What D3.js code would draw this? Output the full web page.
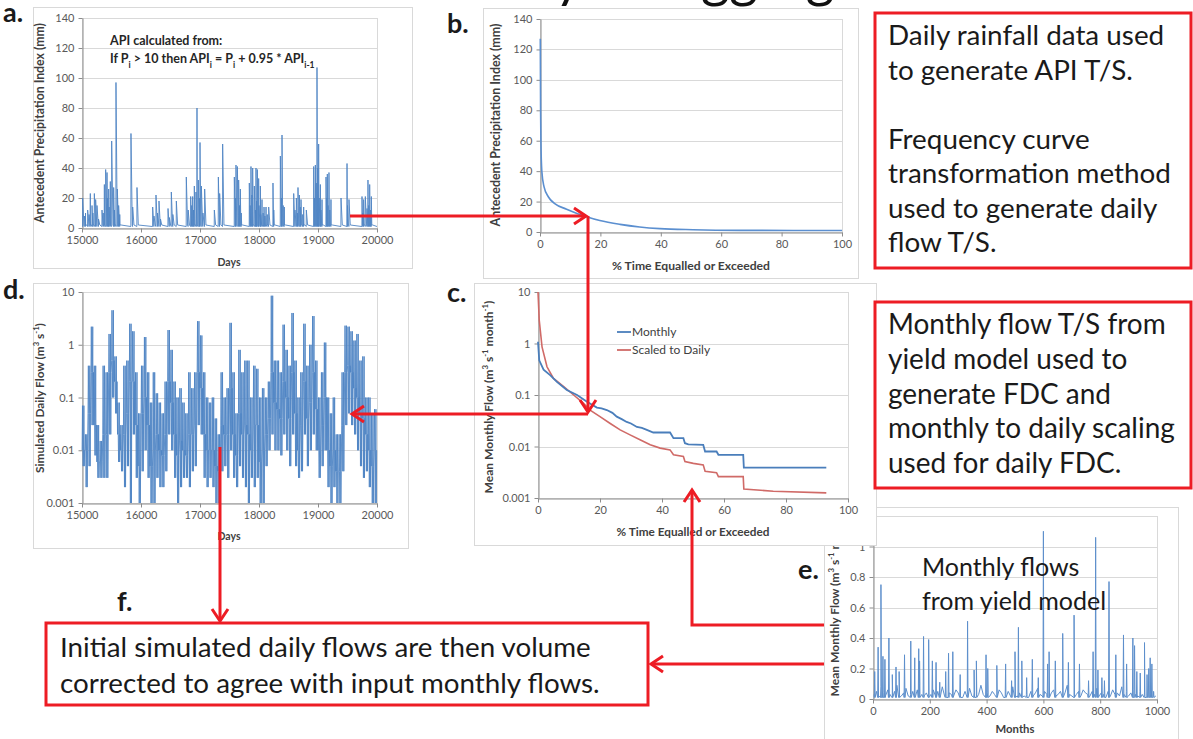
<!DOCTYPE html>
<html><head><meta charset="utf-8">
<script src="https://cdn.jsdelivr.net/npm/d3@7"></script>
<style>
html,body{margin:0;padding:0;background:#fff;overflow:hidden}
svg{display:block}
</style></head><body>
<svg id="fig" width="1193" height="739"></svg>
<script>
// ---------- a. Antecedent Precipitation Index time series: [day, peak API (mm)]
const apiSpikes = [[15011,20],[15040,8],[15060,10],[15096,12],[15120,9],[15141,23],[15170,15],[15185,10],[15209,23],[15231,19],[15254,15],[15280,6],[15339,12],[15360,10],[15379,29],[15401,39],[15424,37],[15430,20],[15452,26],[15460,14],[15480,31],[15503,58],[15537,27],[15550,12],[15576,97],[15599,26],[15621,15],[15640,9],[15830,63],[15859,14],[15932,27],[16198,14],[16220,8],[16254,22],[16280,10],[16305,18],[16330,6],[16458,13],[16480,7],[16514,24],[16540,9],[16599,18],[16768,34],[16800,12],[16842,21],[16860,15],[16876,21],[16890,12],[16904,28],[16932,24],[16949,80],[16972,32],[16990,20],[17000,57],[17023,28],[17050,10],[17079,26],[17243,12],[17311,34],[17333,23],[17384,56],[17582,34],[17600,20],[17610,42],[17633,41],[17655,32],[17670,15],[17684,26],[17700,10],[17836,30],[17850,15],[17864,41],[17880,22],[17893,40],[17921,28],[17940,12],[17949,40],[17960,18],[17972,39],[17994,33],[18000,15],[18023,28],[18030,9],[18051,19],[18070,10],[18085,14],[18100,8],[18119,14],[18140,9],[18164,14],[18237,30],[18250,12],[18362,48],[18380,20],[18390,62],[18410,15],[18429,14],[18588,23],[18610,12],[18633,20],[18650,10],[18661,27],[18684,22],[18700,14],[18712,19],[18740,9],[18757,14],[18802,12],[18927,41],[18940,20],[18955,42],[18970,30],[18983,107],[18995,40],[19011,56],[19020,20],[19040,29],[19050,12],[19068,19],[19136,34],[19150,20],[19158,36],[19170,15],[19186,37],[19200,12],[19220,19],[19390,20],[19492,43],[19500,15],[19525,19],[19746,21],[19760,10],[19774,19],[19802,21],[19831,13],[19847,32],[19860,15],[19876,29],[19890,12],[19904,21]];
const apiBase = 1;

// ---------- b. API frequency curve: [% time equalled or exceeded, API (mm)]
const apiFdc = [[0.1,127],[0.2,80],[0.3,60],[0.6,40],[1.3,30],[2.8,23],[5,18.5],[8.8,15],[15.4,10],[19.8,7.5],[26.5,5],[33,3.3],[39.7,2.2],[50.7,1.5],[66,1.1],[100,1.0]];

// ---------- c. Flow duration curves: [% time, flow]
const monthlyFdc = [[0,1.08],[0.4,0.47],[1.8,0.31],[4,0.24],[6.1,0.18],[9.3,0.125],[12.6,0.1],[15.8,0.074],[19,0.057],[20.5,0.055],[22.2,0.051],[24,0.045],[25.4,0.038],[27,0.034],[28.6,0.03],[30,0.028],[31.9,0.024],[33.5,0.023],[35.1,0.021],[37.2,0.0187],[42.6,0.0187],[43.7,0.0145],[46.9,0.0145],[47.4,0.0116],[48.5,0.011],[53.3,0.0108],[53.9,0.008],[57.6,0.008],[58.2,0.0069],[66.2,0.0069],[66.4,0.0039],[93,0.0039]];
const dailyFdc = [[0,10],[0.4,2.83],[1.3,0.86],[2.9,0.353],[5,0.21],[8.3,0.145],[11.5,0.1],[14.7,0.069],[16.8,0.051],[20,0.038],[23.3,0.028],[26.5,0.021],[29.7,0.0168],[32.9,0.0135],[36.2,0.0108],[39.4,0.0093],[42.6,0.0086],[43.7,0.0069],[46.9,0.0064],[47.4,0.0051],[50.1,0.0047],[53.3,0.0044],[53.9,0.0033],[57.6,0.0031],[58.2,0.0026],[66.2,0.0026],[66.4,0.0015],[75.9,0.00135],[93,0.00126]];
const fdcSeries = ["Monthly", "Scaled to Daily"];

// ---------- d. Simulated daily flow, per 50-day block: peak, typical and minimum flow (m3/s)
const dStart = 15000, dBlock = 50;
const dHigh = [0.07,0.02,0.4,2.2,0.4,0.03,0.015,0.4,0.3,1.6,4.5,0.6,0.08,0.03,0.4,0.5,2.5,1.8,0.3,0.05,0.4,1.4,0.3,0.08,0.3,0.12,0.08,0.05,0.2,1.9,0.8,0.2,0.1,0.15,0.08,0.05,0.3,0.15,0.3,2.8,1.5,0.3,0.1,0.08,0.1,0.04,0.02,0.3,0.1,0.15,2.6,0.3,0.05,0.8,0.3,0.5,0.5,0.1,0.4,0.35,0.1,0.15,0.1,0.2,8.5,0.5,0.5,0.3,2.4,0.8,0.4,4.0,0.5,0.1,0.3,2.5,0.4,1.0,3.5,0.5,0.1,0.3,1.1,0.1,0.05,0.1,0.02,0.02,0.3,2.3,2.2,1.8,1.2,1.6,0.5,0.6,0.1,0.1,0.05,0.06];
const dMid  = [0.01,0.01,0.05,0.3,0.03,0.006,0.006,0.02,0.02,0.3,0.5,0.2,0.02,0.01,0.02,0.05,0.2,0.2,0.03,0.005,0.05,0.1,0.03,0.005,0.01,0.02,0.01,0.008,0.02,0.2,0.08,0.02,0.008,0.015,0.01,0.008,0.02,0.02,0.03,0.3,0.15,0.02,0.01,0.01,0.01,0.005,0.004,0.03,0.02,0.02,0.15,0.02,0.008,0.05,0.02,0.03,0.02,0.01,0.03,0.03,0.006,0.01,0.02,0.04,0.3,0.08,0.06,0.04,0.2,0.1,0.04,0.3,0.05,0.01,0.03,0.2,0.04,0.08,0.3,0.06,0.01,0.03,0.1,0.01,0.005,0.01,0.004,0.004,0.03,0.3,0.4,0.3,0.15,0.1,0.05,0.04,0.02,0.01,0.005,0.01];
const dLow  = [0.005,0.002,0.005,0.03,0.008,0.003,0.003,0.003,0.003,0.02,0.1,0.05,0.006,0.004,0.002,0.005,0.001,0.02,0.003,0.001,0.004,0.01,0.003,0.001,0.001,0.003,0.002,0.002,0.004,0.02,0.01,0.003,0.001,0.002,0.003,0.003,0.002,0.004,0.005,0.03,0.02,0.003,0.002,0.003,0.002,0.001,0.001,0.004,0.005,0.003,0.01,0.003,0.002,0.005,0.003,0.002,0.001,0.003,0.002,0.003,0.001,0.001,0.005,0.01,0.02,0.01,0.01,0.008,0.02,0.01,0.005,0.02,0.005,0.003,0.004,0.02,0.005,0.01,0.02,0.01,0.003,0.005,0.01,0.002,0.001,0.002,0.001,0.001,0.004,0.03,0.05,0.03,0.02,0.01,0.005,0.003,0.004,0.002,0.001,0.001];

// ---------- e. Monthly flows from the yield model
const eSpikes = [[6,0.18],[18,0.34],[28,0.75],[35,0.28],[42,0.26],[56,0.40],[68,0.16],[81,0.21],[92,0.18],[111,0.29],[133,0.38],[147,0.27],[161,0.33],[164,0.25],[178,0.41],[196,0.39],[209,0.25],[222,0.24],[235,0.11],[256,0.18],[266,0.30],[281,0.31],[307,0.16],[333,0.51],[356,0.19],[364,0.25],[398,0.29],[404,0.20],[436,0.22],[467,0.23],[488,0.12],[500,0.31],[512,0.47],[524,0.25],[541,0.14],[561,0.26],[582,0.14],[600,1.10],[615,0.23],[620,0.31],[642,0.25],[668,0.43],[688,0.24],[708,0.55],[727,0.23],[759,0.12],[775,0.31],[784,1.06],[792,0.19],[806,0.14],[815,0.12],[831,0.77],[855,0.29],[882,0.42],[893,0.23],[915,0.40],[921,0.35],[929,0.18],[941,0.17],[956,0.37],[965,0.16],[971,0.20],[976,0.27],[982,0.23],[988,0.05]];
const eStep = 8;
const eBase = [0.03,0.05,0.02,0.08,0.04,0.02,0.06,0.03,0.01,0.05,0.09,0.03,0.02,0.04,0.07,0.02,0.03,0.05,0.02,0.06,0.10,0.03,0.02,0.04,0.01,0.03,0.06,0.02,0.05,0.03,0.08,0.02,0.01,0.04,0.03,0.02,0.06,0.04,0.02,0.01,0.05,0.03,0.07,0.02,0.04,0.02,0.03,0.09,0.03,0.01,0.04,0.02,0.05,0.03,0.02,0.06,0.04,0.01,0.03,0.05,0.02,0.08,0.03,0.02,0.04,0.06,0.02,0.03,0.01,0.05,0.02,0.04,0.07,0.03,0.02,0.05,0.03,0.01,0.04,0.06,0.02,0.03,0.05,0.02,0.04,0.09,0.03,0.02,0.01,0.03,0.05,0.02,0.06,0.04,0.03,0.02,0.05,0.03,0.07,0.02,0.04,0.03,0.01,0.05,0.02,0.06,0.03,0.04,0.02,0.08,0.03,0.05,0.02,0.04,0.06,0.03,0.02,0.05,0.03,0.04,0.02,0.06,0.03,0.04,0.02];

// ---------- tick values
const apiTicks = [0,20,40,60,80,100,120,140];
const dayTicks = [15000,16000,17000,18000,19000,20000];
const pctTicks = [0,20,40,60,80,100];
const logTicks = [0.001,0.01,0.1,1,10];
const eYTicks = [0,0.2,0.4,0.6,0.8,1,1.2];
const monthTicks = [0,200,400,600,800,1000];

// ---------- annotation texts
const noteA = ["API calculated from:"];
const box1Lines = ["Daily rainfall data used","to generate API T/S.","","Frequency curve","transformation method","used to generate daily","flow T/S."];
const box2Lines = ["Monthly flow T/S from","yield model used to","generate FDC and","monthly to daily scaling","used for daily FDC."];
const boxFLines = ["Initial simulated daily flows are then volume","corrected to agree with input monthly flows."];
const eNote = ["Monthly flows","from yield model"];

const BLUE = "#4a7ebb", RED_LINE = "#d06a67", RED = "#ed1c24";
const FONT = "Lato, 'Open Sans', sans-serif";
const svg = d3.select("#fig");

// heading, mostly above the top edge
{
  const t = svg.append("text").attr("x", 453).attr("y", -3)
    .attr("font-family", FONT).attr("font-size", 60).attr("fill", "#111")
    .text("Daily Disaggregation");
  const n = t.node();
  const cx = i => { const e = n.getExtentOfChar(i); return e.x + e.width / 2; };
  const fs = 60 * 252 / (cx(14) - cx(4));
  t.attr("font-size", fs);
  t.attr("x", 453 + 568 - cx(4));
}

function chartBox(x0, y0, x1, y1) {
  svg.append("rect").attr("x", x0 + .5).attr("y", y0 + .5)
    .attr("width", x1 - x0).attr("height", y1 - y0)
    .attr("fill", "#fff").attr("stroke", "#d9d9d9");
}

function styleAxis(g) {
  g.select(".domain").attr("stroke", "#8c8c8c");
  g.selectAll(".tick line").attr("stroke", "#8c8c8c");
  g.selectAll(".tick text").attr("fill", "#595959")
    .attr("font-family", FONT).attr("font-size", 11);
}

function plotArea(x, y, yTicks, xTicks, yFmt, xFmt) {
  const [x0, x1] = x.range(), [yb, yt] = y.range();
  const g = svg.append("g");
  g.append("rect").attr("x", x0 + .5).attr("y", yt + .5)
    .attr("width", x1 - x0).attr("height", yb - yt)
    .attr("fill", "none").attr("stroke", "#d9d9d9");
  yTicks.forEach(t => {
    const yy = Math.round(y(t)) + .5;
    g.append("line").attr("x1", x0).attr("x2", x1).attr("y1", yy).attr("y2", yy)
      .attr("stroke", "#d9d9d9");
  });
  g.append("g").attr("transform", `translate(0,${yb + .5})`)
    .call(d3.axisBottom(x).tickValues(xTicks).tickFormat(xFmt || d3.format("d"))
      .tickSize(4).tickSizeOuter(0).tickPadding(4))
    .call(styleAxis);
  g.append("g").attr("transform", `translate(${x0 + .5},0)`)
    .call(d3.axisLeft(y).tickValues(yTicks).tickFormat(yFmt || d3.format("d"))
      .tickSize(4).tickSizeOuter(0).tickPadding(4))
    .call(styleAxis);
  return g;
}

function titleText(x, y, rotate, parts, size, width) {
  const t = svg.append("text").attr("font-family", FONT).attr("font-weight", 700)
    .attr("font-size", size).attr("fill", "#404040").attr("text-anchor", "middle")
    .attr("transform", `translate(${x},${y})` + (rotate ? " rotate(-90)" : ""));
  parts.forEach(p => {
    if (typeof p === "string") t.append("tspan").text(p);
    else t.append("tspan").attr("baseline-shift", "super").attr("font-size", size * 0.65).text(p.sup);
  });
  if (width) {
    const w = t.node().getComputedTextLength();
    t.attr("font-size", size * width / w);
    t.selectAll("tspan[baseline-shift]").attr("font-size", size * width / w * 0.65);
  }
  return t;
}

function panelLabel(x, y, s) {
  svg.append("text").attr("x", x).attr("y", y).attr("font-family", FONT)
    .attr("font-weight", 700).attr("font-size", 27).attr("fill", "#1a1a1a").text(s);
}

const flowFmt = d => String(d);
const flowUnits = ["Mean Monthly Flow (m", {sup: "3"}, " s", {sup: "-1"}, " month", {sup: "-1"}, ")"];

// ===== a. API time series
chartBox(33, 7, 412, 268);
const xa = d3.scaleLinear([15000, 20000], [82, 377]);
const ya = d3.scaleLinear([0, 140], [228, 18]);
plotArea(xa, ya, apiTicks, dayTicks);
{
  const pts = [];
  apiSpikes.forEach(([d, p]) => pts.push([d - 2, apiBase], [d, p], [d + 22, apiBase + 1]));
  pts.push([15000, apiBase], [20000, apiBase]);
  pts.sort((a, b) => a[0] - b[0]);
  svg.append("path").datum(pts).attr("fill", "none").attr("stroke", "#4f84c4")
    .attr("stroke-width", 0.9).attr("stroke-linejoin", "round")
    .attr("d", d3.line().x(d => xa(d[0])).y(d => ya(d[1])));
}
titleText(44, 123, true, ["Antecedent Precipitation Index (mm)"], 10.5, 200);
titleText(229, 266, false, ["Days"], 10.5);
{
  svg.append("text").attr("x", 110).attr("y", 45).attr("font-family", FONT)
    .attr("font-weight", 700).attr("font-size", 12.5).attr("fill", "#262626").text(noteA[0]);
  const t2 = svg.append("text").attr("x", 110).attr("y", 63).attr("font-family", FONT)
    .attr("font-weight", 700).attr("font-size", 12.5).attr("fill", "#262626");
  const sub = s => t2.append("tspan").attr("baseline-shift", "sub").attr("font-size", 8.5).text(s);
  const txt = s => t2.append("tspan").text(s);
  txt("If P"); sub("i"); txt(" > 10 then API"); sub("i"); txt(" = P"); sub("i");
  txt(" + 0.95 * API"); sub("i-1");
}
panelLabel(3, 22, "a.");

// ===== b. API frequency curve
chartBox(483, 8, 858, 278);
const xb = d3.scaleLinear([0, 100], [540, 842]);
const yb = d3.scaleLinear([0, 140], [232, 19]);
plotArea(xb, yb, apiTicks, pctTicks);
svg.append("path").datum(apiFdc).attr("fill", "none").attr("stroke", "#5b8fd0")
  .attr("stroke-width", 1.6)
  .attr("d", d3.line().curve(d3.curveMonotoneX).x(d => xb(d[0])).y(d => yb(d[1])));
titleText(500, 125, true, ["Antecedent Precipitation Index (mm)"], 10.5, 203);
titleText(691, 270, false, ["% Time Equalled or Exceeded"], 10.5, 158);
panelLabel(447, 33, "b.");

// ===== d. simulated daily flows
chartBox(33, 283, 408, 548);
const xd = d3.scaleLinear([15000, 20000], [82, 377]);
const yd = d3.scaleLog([0.001, 10], [503, 292]);
plotArea(xd, yd, logTicks, dayTicks, flowFmt);
{
  // each block oscillates around its typical flow, reaching its peak and its minimum
  const pts = [];
  dHigh.forEach((h, i) => {
    const d0 = dStart + i * dBlock, m = dMid[i], l = dLow[i];
    pts.push([d0 + 2, m], [d0 + 8, h], [d0 + 14, m], [d0 + 20, l], [d0 + 26, m],
             [d0 + 32, h], [d0 + 38, l], [d0 + 44, m]);
  });
  svg.append("path").datum(pts).attr("fill", "none").attr("stroke", "#4f84c4")
    .attr("stroke-width", 0.9).attr("stroke-linejoin", "round")
    .attr("d", d3.line().x(d => xd(d[0])).y(d => yd(d[1])));
}
titleText(44, 398, true, ["Simulated Daily Flow (m", {sup: "3"}, " s", {sup: "-1"}, ")"], 10.5, 150);
titleText(229, 540, false, ["Days"], 10.5);
panelLabel(3, 299, "d.");

// ===== e. monthly flows
chartBox(824, 507, 1178, 745);
const xe = d3.scaleLinear([0, 1000], [873, 1157]);
const ye = d3.scaleLinear([0, 1.2], [699, 516]);
// the 1.2 label sits under sheet c, so it is left blank
plotArea(xe, ye, eYTicks, monthTicks, d => d >= 1.2 ? "" : d3.format("~g")(d));
{
  const pts = eBase.map((v, i) => [i * eStep + 4, v]).filter(p => p[0] <= 1000);
  eSpikes.forEach(([m, v]) => pts.push([m - 1.5, 0.01], [m, v], [m + 1.5, 0.01]));
  pts.sort((a, b) => a[0] - b[0]);
  svg.append("path").datum(pts).attr("fill", "none").attr("stroke", "#5d8fcc")
    .attr("stroke-width", 1).attr("stroke-linejoin", "round")
    .attr("d", d3.line().x(d => xe(d[0])).y(d => ye(d[1])));
}
titleText(839, 600, true, flowUnits, 10.5, 193);
titleText(1015, 733, false, ["Months"], 10.5, 39);
panelLabel(798, 579, "e.");
{
  const g = svg.append("g");
  eNote.forEach((s, i) => g.append("text").attr("x", 922).attr("y", 576 + i * 34)
    .attr("font-family", FONT).attr("font-size", 25).attr("fill", "#1a1a1a").text(s));
}

// ===== c. flow duration curves (its sheet overlaps the corner of e)
chartBox(474, 283, 876, 545);
const xc = d3.scaleLinear([0, 100], [538, 848]);
const yc = d3.scaleLog([0.001, 10], [498, 292]);
plotArea(xc, yc, logTicks, pctTicks, flowFmt);
const lc = d3.line().x(d => xc(d[0])).y(d => yc(d[1]));
svg.append("path").datum(dailyFdc).attr("fill", "none").attr("stroke", RED_LINE)
  .attr("stroke-width", 1.6).attr("d", lc);
svg.append("path").datum(monthlyFdc).attr("fill", "none").attr("stroke", BLUE)
  .attr("stroke-width", 1.8).attr("d", lc);
[[BLUE, 332], [RED_LINE, 350]].forEach(([c, yy], i) => {
  svg.append("line").attr("x1", 617).attr("x2", 631).attr("y1", yy).attr("y2", yy)
    .attr("stroke", c).attr("stroke-width", 1.8);
  svg.append("text").attr("x", 632).attr("y", yy + 4).attr("font-family", FONT)
    .attr("font-size", 12).attr("fill", "#404040").text(fdcSeries[i]);
});
titleText(493, 397, true, flowUnits, 10.5, 193);
titleText(693, 536, false, ["% Time Equalled or Exceeded"], 10.5, 153);
panelLabel(447, 302, "c.");

// ===== explanatory text boxes
function textBox(x0, y0, x1, y1, lines, tx, firstBase, lineH, widest) {
  svg.append("rect").attr("x", x0).attr("y", y0).attr("width", x1 - x0).attr("height", y1 - y0)
    .attr("fill", "#fff").attr("stroke", RED).attr("stroke-width", 3);
  const g = svg.append("g").attr("font-family", FONT).attr("font-size", 24).attr("fill", "#1a1a1a");
  const ts = lines.map((s, i) => g.append("text").attr("x", tx).attr("y", firstBase + i * lineH).text(s));
  const w = d3.max(ts, t => t.node().getComputedTextLength());
  g.attr("font-size", 24 * widest / w);
}
textBox(875, 13, 1191, 268, box1Lines, 888, 45, 34.5, 283);
textBox(875, 302, 1191, 488, box2Lines, 888, 334, 34.75, 287);
textBox(46, 623, 648, 705, boxFLines, 60, 657, 35.5, 540);
panelLabel(117, 611, "f.");

// ===== flow arrows
function arrow(points) {
  svg.append("path").datum(points).attr("fill", "none").attr("stroke", RED)
    .attr("stroke-width", 3).attr("d", d3.line());
  const [ax, ay] = points[points.length - 2], [tx, ty] = points[points.length - 1];
  const len = Math.hypot(tx - ax, ty - ay), ux = (tx - ax) / len, uy = (ty - ay) / len;
  const L = 12, W = 8;
  const h = [[tx - ux * L - uy * W, ty - uy * L + ux * W], [tx, ty], [tx - ux * L + uy * W, ty - uy * L - ux * W]];
  svg.append("path").datum(h).attr("fill", "none").attr("stroke", RED)
    .attr("stroke-width", 3).attr("stroke-linejoin", "miter").attr("d", d3.line());
}
arrow([[350, 216], [586, 216]]);
arrow([[588, 216], [588, 412]]);
arrow([[588, 414], [352, 414]]);
arrow([[220, 447], [220, 621]]);
arrow([[824, 625], [692, 625], [692, 490]]);
arrow([[824, 664], [651, 664]]);
</script>
</body></html>
